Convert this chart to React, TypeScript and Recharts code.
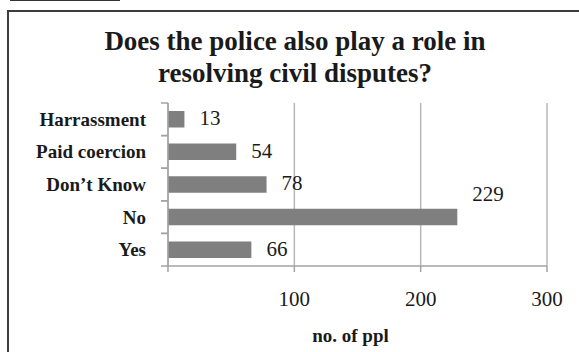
import { Bar, BarChart, CartesianGrid, Label, LabelList, XAxis, YAxis } from 'recharts';

const responses = ['Harrassment', 'Paid coercion', 'Don’t Know', 'No', 'Yes'];
const counts = [13, 54, 78, 229, 66];
const xTicks = [0, 100, 200, 300];

const data = responses.map((r, i) => ({ response: r, count: counts[i] }));

const FONT = '"Liberation Serif", "DejaVu Serif", serif';
const AXIS = '#a3a3a3';

function CategoryTick({ x, y, payload }: any) {
  const half = payload?.offset ?? 16.3;
  return (
    <g>
      <line x1={x + 15} x2={x + 22} y1={y - half} y2={y - half} stroke={AXIS} strokeWidth={1.5} />
      <line x1={x + 15} x2={x + 22} y1={y + half} y2={y + half} stroke={AXIS} strokeWidth={1.5} />
      <text x={x} y={y} textAnchor="end" dominantBaseline="central" fontFamily={FONT} fontSize={19} fontWeight="bold" fill="#1a1a1a">
        {payload.value}
      </text>
    </g>
  );
}

function ValueLabel({ x, y, width, height, value }: any) {
  // the biggest bar's label sits above its bar, as in the source
  const raised = value === Math.max(...counts);
  return (
    <text
      x={x + width + 15}
      y={y + height / 2 - (raised ? 23 : 1)}
      dominantBaseline="central"
      fontFamily={FONT}
      fontSize={21}
      fill="#1a1a1a"
    >
      {value}
    </text>
  );
}

export default function App() {
  return (
    <div style={{ position: 'absolute', left: 0, top: 0, width: 579, height: 352, overflow: 'hidden', background: '#fff', fontFamily: FONT }}>
      <div style={{ position: 'absolute', left: 10, top: 0, width: 110, borderTop: '1.5px solid #333' }} />
      <div style={{ position: 'absolute', left: 7, top: 10, width: 700, height: 500, borderLeft: '2px solid #3c3c3c', borderTop: '2px solid #3c3c3c' }} />
      <div
        style={{
          position: 'absolute',
          left: 0,
          top: 25,
          width: 590,
          textAlign: 'center',
          fontSize: 27,
          lineHeight: '32px',
          fontWeight: 'bold',
          color: '#1a1a1a',
        }}
      >
        Does the police also play a role in
        <br />
        resolving civil disputes?
      </div>
      <div style={{ position: 'absolute', left: 0, top: 0 }}>
        <BarChart
          width={579}
          height={352}
          data={data}
          layout="vertical"
          margin={{ top: 103, right: 32, left: 0, bottom: 10 }}
        >
          <CartesianGrid horizontal={false} stroke="#b8b8b8" strokeWidth={1.5} />
          <XAxis
            type="number"
            domain={[0, 300]}
            ticks={xTicks}
            height={76}
            tickSize={6}
            tickMargin={19}
            stroke={AXIS}
            strokeWidth={1.5}
            tick={{ fontFamily: FONT, fontSize: 21, fill: '#1a1a1a' }}
            tickFormatter={(v: number) => (v === 0 ? '' : String(v))}
          >
            <Label
              value="no. of ppl"
              position="insideBottom"
              offset={0}
              dx={-7}
              style={{ fontFamily: FONT, fontSize: 19, fontWeight: 'bold', fill: '#1a1a1a' }}
            />
          </XAxis>
          <YAxis
            type="category"
            dataKey="response"
            width={168}
            tickSize={7}
            tickMargin={15}
            tickLine={false}
            stroke={AXIS}
            strokeWidth={1.5}
            tick={<CategoryTick />}
            interval={0}
          />
          <Bar dataKey="count" fill="#7f7f7f" barSize={16.5} isAnimationActive={false}>
            <LabelList dataKey="count" content={<ValueLabel />} />
          </Bar>
        </BarChart>
      </div>
    </div>
  );
}
